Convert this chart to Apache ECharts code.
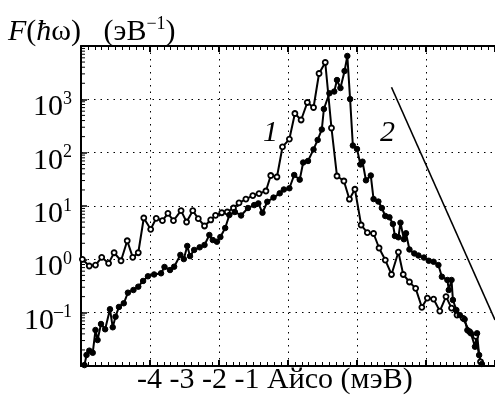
<!DOCTYPE html>
<html>
<head>
<meta charset="utf-8">
<script src="https://cdn.jsdelivr.net/npm/echarts@6/dist/echarts.min.js"></script>
<style>
  html, body { margin: 0; padding: 0; background: #fff; }
  #chart { width: 495px; height: 396px; }
</style>
</head>
<body>
<div id="chart"></div>
<script>
// кривая 1 (левый пик)
const curve1X = [-4.98, -4.88, -4.79, -4.70, -4.60, -4.52, -4.42, -4.33, -4.25, -4.17,
  -4.09, -3.99, -3.91, -3.82, -3.74, -3.66, -3.55, -3.47, -3.38, -3.30,
  -3.21, -3.12, -3.05, -2.96, -2.88, -2.79, -2.71, -2.61, -2.51, -2.42,
  -2.32, -2.25, -2.16, -2.08, -1.98, -1.90, -1.81, -1.72, -1.63, -1.55,
  -1.46, -1.37, -1.29, -1.19, -1.11, -1.03, -0.94, -0.85, -0.76, -0.68,
  -0.59, -0.50, -0.40, -0.33, -0.24, -0.15, -0.06, 0.02, 0.11, 0.20,
  0.29, 0.37, 0.45, 0.54, 0.63, 0.72, 0.79];
const curve1Y = [1.00, 0.75, 0.78, 1.09, 0.84, 1.33, 0.94, 2.23, 1.09, 1.33,
  5.96, 3.66, 5.88, 5.30, 7.30, 5.30, 8.17, 5.01, 8.17, 5.78,
  4.22, 5.47, 6.69, 7.48, 7.72, 9.17, 11.4, 13.5, 15.7, 17.1,
  19.1, 37.3, 35.0, 128, 180, 542, 410, 873, 703, 3050,
  4910, 290, 36.5, 29.4, 13.4, 20.6, 4.40, 3.16, 3.05, 1.63,
  0.97, 0.52, 1.37, 0.52, 0.376, 0.286, 0.126, 0.188, 0.180, 0.107,
  0.20, 0.122, 0.090, 0.078, 0.044, 0.036, 0.012];

// кривая 2 (правый пик)
const curve2X = [-4.95, -4.92, -4.88, -4.83, -4.79, -4.76, -4.71, -4.65, -4.58, -4.54,
  -4.50, -4.45, -4.38, -4.32, -4.24, -4.17, -4.10, -4.03, -3.94, -3.84,
  -3.79, -3.71, -3.65, -3.56, -3.51, -3.46, -3.42, -3.36, -3.28, -3.21,
  -3.14, -3.09, -3.03, -2.98, -2.91, -2.85, -2.77, -2.68, -2.58, -2.49,
  -2.43, -2.37, -2.30, -2.21, -2.12, -2.06, -1.98, -1.91, -1.83, -1.78,
  -1.71, -1.63, -1.57, -1.51, -1.48, -1.40, -1.33, -1.29, -1.24, -1.18,
  -1.14, -1.10, -1.06, -1.00, -0.95, -0.92, -0.87, -0.80, -0.76, -0.69,
  -0.64, -0.59, -0.53, -0.48, -0.45, -0.40, -0.37, -0.32, -0.29, -0.24,
  -0.17, -0.11, -0.03, 0.04, 0.11, 0.18, 0.23, 0.31, 0.33, 0.37,
  0.39, 0.44, 0.49, 0.56, 0.60, 0.65, 0.71, 0.74, 0.77, 0.81];
const curve2Y = [0.0104, 0.0161, 0.0194, 0.0177, 0.0473, 0.0307, 0.0613, 0.0488, 0.116, 0.0532,
  0.084, 0.128, 0.150, 0.237, 0.266, 0.307, 0.393, 0.481, 0.52, 0.547,
  0.718, 0.63, 0.727, 1.21, 1.01, 1.78, 1.15, 1.50, 1.68, 1.86,
  2.86, 2.30, 2.14, 2.62, 3.87, 6.78, 7.72, 6.64, 9.17, 10.4,
  11.2, 7.48, 12.0, 14.4, 17.3, 20.4, 21.5, 38.1, 31.2, 65.4,
  69.8, 115, 173, 272, 659, 1300, 1400, 2300, 1630, 3400,
  6500, 1010, 136, 117, 60, 67.7, 30.3, 37.3, 13.5, 12.1,
  9.17, 6.49, 6.14, 4.60, 2.74, 2.59, 4.86, 2.38, 3.08, 1.53,
  1.29, 1.18, 1.08, 0.94, 0.90, 0.78, 0.472, 0.41, 0.266, 0.41,
  0.173, 0.112, 0.090, 0.075, 0.047, 0.041, 0.023, 0.041, 0.016, 0.0109];

// прямая (наклон)
const slopeX = [-0.50, 1.00];
const slopeY = [1683, 0.0728];

// подписи
const titleText = '{i|F}{n|(}{i|ħ}{n|ω)   (эВ}{s|−1}{n|)}';
const xAxisText = '-4 -3 -2 -1 Айсо (мэВ)';
const curveLabels = ['1', '2'];

const serif = '"Liberation Serif", "Times New Roman", serif';

// мелкие засечки логарифмической оси: 2..9 в каждой декаде
const minorLogTicks = [];
for (let k = -2; k <= 3; k++) {
  for (let m = 2; m <= 9; m++) minorLogTicks.push([-5, m * Math.pow(10, k)]);
}

const zip = (xs, ys) => xs.map((x, i) => [x, ys[i]]);

const chart = echarts.init(document.getElementById('chart'), null, { renderer: 'canvas' });

chart.setOption({
  animation: false,
  backgroundColor: '#fff',
  title: {
    text: titleText,
    left: 8,
    top: 15,
    padding: 0,
    textStyle: {
      fontWeight: 'normal',
      rich: {
        i: { fontFamily: serif, fontSize: 30, fontStyle: 'italic', fontWeight: 'normal', color: '#000', lineHeight: 34 },
        n: { fontFamily: serif, fontSize: 30, fontWeight: 'normal', color: '#000', lineHeight: 34 },
        s: { fontFamily: serif, fontSize: 18, fontWeight: 'normal', color: '#000', verticalAlign: 'top', lineHeight: 34 }
      }
    }
  },
  grid: { left: 81, top: 46, width: 427, height: 320 },
  xAxis: [
    {
      type: 'value',
      min: -5,
      max: 1,
      interval: 1,
      position: 'bottom',
      axisLine: { lineStyle: { color: '#000', width: 2 } },
      axisTick: { inside: true, length: 6, lineStyle: { color: '#000', width: 2 } },
      minorTick: { show: true, splitNumber: 10, length: 4, lineStyle: { color: '#000', width: 1 } },
      axisLabel: { show: false },
      splitLine: { show: true, lineStyle: { color: '#000', width: 1, type: [1.5, 5] } }
    },
    {
      type: 'value',
      min: -5,
      max: 1,
      interval: 1,
      position: 'top',
      axisLine: { lineStyle: { color: '#000', width: 2 } },
      axisTick: { inside: true, length: 6, lineStyle: { color: '#000', width: 2 } },
      minorTick: { show: true, splitNumber: 10, length: 4, lineStyle: { color: '#000', width: 1 } },
      axisLabel: { show: false },
      splitLine: { show: false }
    }
  ],
  yAxis: {
    type: 'log',
    logBase: 10,
    min: 0.01,
    max: 10000,
    splitNumber: 6,
    axisLine: { show: true, onZero: false, lineStyle: { color: '#000', width: 2 } },
    axisTick: { inside: true, length: 6, lineStyle: { color: '#000', width: 1.5 } },
    axisLabel: {
      margin: 9,
      padding: [16, 0, 0, 0],
      formatter: function (v) {
        const e = Math.round(Math.log10(v));
        if (e > 3 || e < -1) return '';
        return '{b|10}{s|' + (e < 0 ? '–' + (-e) : e) + '}';
      },
      rich: {
        b: { fontFamily: serif, fontSize: 30, color: '#000', lineHeight: 34 },
        s: { fontFamily: serif, fontSize: 18, color: '#000', verticalAlign: 'top', lineHeight: 34 }
      }
    },
    splitLine: { show: true, lineStyle: { color: '#000', width: 1, type: [1.5, 5] } }
  },
  graphic: [
    {
      type: 'text', left: 137, top: 365, silent: true,
      style: { text: xAxisText, font: '30px ' + serif, fill: '#000' }
    },
    {
      type: 'text', left: 263, top: 118, silent: true,
      style: { text: curveLabels[0], font: 'italic 30px ' + serif, fill: '#000' }
    },
    {
      type: 'text', left: 380, top: 118, silent: true,
      style: { text: curveLabels[1], font: 'italic 30px ' + serif, fill: '#000' }
    }
  ],
  series: [
    {
      name: 'minor',
      type: 'custom',
      silent: true,
      clip: false,
      data: minorLogTicks,
      renderItem: function (params, api) {
        const p = api.coord([api.value(0), api.value(1)]);
        return {
          type: 'line',
          shape: { x1: p[0], y1: p[1], x2: p[0] + 4, y2: p[1] },
          style: { stroke: '#000', lineWidth: 1 }
        };
      }
    },
    {
      name: '1',
      type: 'line',
      data: zip(curve1X, curve1Y),
      symbol: 'circle',
      symbolSize: 5,
      lineStyle: { color: '#000', width: 2 },
      itemStyle: { color: '#fff', borderColor: '#000', borderWidth: 1.8 }
    },
    {
      name: '2',
      type: 'line',
      data: zip(curve2X, curve2Y),
      symbol: 'circle',
      symbolSize: 5.5,
      lineStyle: { color: '#000', width: 2 },
      itemStyle: { color: '#000', borderColor: '#000', borderWidth: 1 }
    },
    {
      name: 'slope',
      type: 'line',
      data: zip(slopeX, slopeY),
      symbol: 'none',
      lineStyle: { color: '#000', width: 1.6 }
    }
  ]
});
</script>
</body>
</html>
